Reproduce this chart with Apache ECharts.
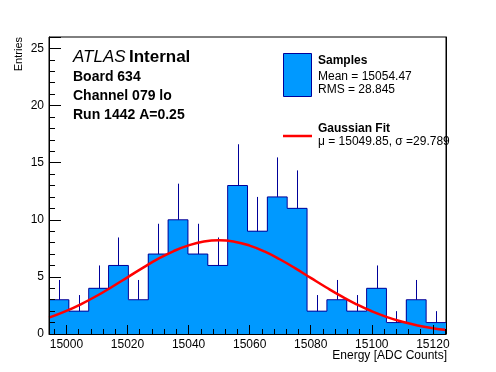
<!DOCTYPE html>
<html>
<head>
<meta charset="utf-8">
<script src="https://cdn.jsdelivr.net/npm/echarts@6/dist/echarts.min.js"></script>
<style>
html,body{margin:0;padding:0;background:#fff;}
#chart{width:496px;height:372px;}
</style>
</head>
<body>
<div id="chart"></div>
<script>
// ---- data ----
var binEdges = [14994.3, 15000.8, 15007.3, 15013.8, 15020.3, 15026.8, 15033.3, 15039.8, 15046.3, 15052.8,
                15059.3, 15065.8, 15072.3, 15078.8, 15085.3, 15091.8, 15098.3, 15104.8, 15111.3, 15117.8, 15124.3];
var counts = [3, 2, 4, 6, 3, 7, 10, 7, 6, 13, 9, 12, 11, 2, 3, 2, 4, 1, 3, 1];
var errors = [1.73, 1.41, 2, 2.45, 1.73, 2.65, 3.16, 2.65, 2.45, 3.61, 3, 3.46, 3.32, 1.41, 1.73, 1.41, 2, 1, 1.73, 1];
var fitX = [14994.3, 15000, 15005, 15010, 15015, 15020, 15025, 15030, 15035, 15040, 15045, 15050, 15055, 15060,
            15065, 15070, 15075, 15080, 15085, 15090, 15095, 15100, 15105, 15110, 15115, 15120, 15124];
var fitY = [1.43, 2.02, 2.64, 3.35, 4.14, 4.96, 5.79, 6.57, 7.24, 7.76, 8.09, 8.20, 8.08, 7.74,
            7.21, 6.52, 5.74, 4.91, 4.09, 3.31, 2.60, 1.99, 1.48, 1.07, 0.75, 0.51, 0.37];
var xTitle = 'Energy [ADC Counts]';
var yTitle = 'Entries';
var legendSamples = ['Samples', 'Mean = 15054.47', 'RMS = 28.845'];
var legendFit = ['Gaussian Fit', '\u03bc = 15049.85, \u03c3 =29.789'];
var infoLines = ['Board 634', 'Channel 079 lo', 'Run 1442 A=0.25'];

// ---- build series data ----
var histData = counts.map(function (c, i) { return [binEdges[i], binEdges[i + 1], c, errors[i]]; });
var stepData = counts.map(function (c, i) { return [binEdges[i], c]; });
stepData.push([binEdges[binEdges.length - 1], counts[counts.length - 1]]);
var fitData = fitX.map(function (x, i) { return [x, fitY[i]]; });

var FONT = '"Liberation Sans", Arial, Helvetica, sans-serif';
var FILL = '#0099ff';
var EDGE = '#000099';
var xMin = binEdges[0], xMax = binEdges[binEdges.length - 1];

var chart = echarts.init(document.getElementById('chart'), null, {renderer: 'canvas'});
chart.setOption({
  animation: false,
  backgroundColor: '#ffffff',
  grid: {left: 49, right: 50, top: 37, bottom: 38, show: true, borderColor: '#000', borderWidth: 1, backgroundColor: '#fff'},
  xAxis: [
    {
      type: 'value', position: 'bottom', min: xMin, max: xMax, minInterval: 20, maxInterval: 20, z: 10,
      axisLine: {show: true, lineStyle: {color: '#000', width: 1}},
      axisTick: {show: true, inside: true, length: 9, lineStyle: {color: '#000'}},
      splitLine: {show: false},
      axisLabel: {
        show: true, margin: 5, color: '#000', fontSize: 12, fontFamily: FONT,
        formatter: function (v) { return Math.abs(v % 20) < 1e-6 ? String(Math.round(v)) : ''; }
      }
    },
    {
      type: 'value', position: 'bottom', min: xMin, max: xMax, minInterval: 4, maxInterval: 4, z: 10,
      axisLine: {show: false},
      axisTick: {show: true, inside: true, length: 5, lineStyle: {color: '#000'}},
      splitLine: {show: false},
      axisLabel: {show: false}
    }
  ],
  yAxis: [
    {
      type: 'value', position: 'left', min: 0, max: 26, interval: 5, z: 10,
      axisLine: {show: true, lineStyle: {color: '#000', width: 1}},
      axisTick: {show: true, inside: true, length: 12, lineStyle: {color: '#000'}},
      splitLine: {show: false},
      axisLabel: {
        show: true, margin: 5, color: '#000', fontSize: 12, fontFamily: FONT,
        formatter: function (v) { return Math.abs(v % 5) < 1e-6 ? String(Math.round(v)) : ''; }
      }
    },
    {
      type: 'value', position: 'left', min: 0, max: 26, interval: 1, z: 10,
      axisLine: {show: false},
      axisTick: {show: true, inside: true, length: 6, lineStyle: {color: '#000'}},
      splitLine: {show: false},
      axisLabel: {show: false}
    },
    {
      type: 'value', position: 'right', min: 0, max: 26, z: 10,
      axisLine: {show: true, lineStyle: {color: '#000', width: 1}},
      axisTick: {show: false}, splitLine: {show: false}, axisLabel: {show: false}
    }
  ],
  series: [
    {
      type: 'custom', name: 'Samples', xAxisIndex: 0, yAxisIndex: 0, z: 2,
      data: histData,
      encode: {x: [0, 1], y: 2},
      renderItem: function (params, api) {
        var p1 = api.coord([api.value(0), api.value(2)]);
        var p2 = api.coord([api.value(1), 0]);
        var x0 = Math.round(p1[0]), x1 = Math.round(p2[0]);
        var y0 = Math.round(p1[1]), y1 = Math.round(p2[1]);
        return {
          type: 'rect',
          shape: {x: x0, y: y0, width: x1 - x0, height: y1 - y0},
          style: {fill: FILL, stroke: null}
        };
      }
    },
    {
      type: 'line', name: 'outline', xAxisIndex: 0, yAxisIndex: 0, z: 3,
      data: stepData, step: 'end', symbol: 'none', silent: true,
      lineStyle: {color: EDGE, width: 1}
    },
    {
      type: 'custom', name: 'errors', xAxisIndex: 0, yAxisIndex: 0, z: 4,
      data: histData,
      encode: {x: [0, 1], y: 2},
      renderItem: function (params, api) {
        var xc = (api.value(0) + api.value(1)) / 2;
        var a = api.coord([xc, api.value(2)]);
        var b = api.coord([xc, api.value(2) + api.value(3)]);
        var x = Math.round(a[0]) + 0.5;
        return {
          type: 'line',
          shape: {x1: x, y1: a[1], x2: x, y2: b[1]},
          style: {stroke: EDGE, lineWidth: 1}
        };
      }
    },
    {
      type: 'line', name: 'Gaussian Fit', xAxisIndex: 0, yAxisIndex: 0, z: 5,
      data: fitData, smooth: true, symbol: 'none', clip: true,
      lineStyle: {color: '#ff0000', width: 2.5}
    }
  ],
  graphic: [
    {type: 'text', x: 73, y: 57, z: 20, style: {
      text: '{i|ATLAS} {b|Internal}', verticalAlign: 'middle', align: 'left',
      rich: {
        i: {fontStyle: 'italic', fontSize: 17, fontFamily: FONT, fill: '#000'},
        b: {fontWeight: 'bold', fontSize: 17, fontFamily: FONT, fill: '#000'}
      }
    }},
    {type: 'text', x: 73, y: 77, z: 20, style: {text: infoLines[0], font: 'bold 14px ' + FONT, fill: '#000', verticalAlign: 'middle'}},
    {type: 'text', x: 73, y: 96, z: 20, style: {text: infoLines[1], font: 'bold 14px ' + FONT, fill: '#000', verticalAlign: 'middle'}},
    {type: 'text', x: 73, y: 115, z: 20, style: {text: infoLines[2], font: 'bold 14px ' + FONT, fill: '#000', verticalAlign: 'middle'}},
    // legend
    {type: 'rect', z: 20, shape: {x: 283.5, y: 53.5, width: 28, height: 43}, style: {fill: FILL, stroke: EDGE, lineWidth: 1}},
    {type: 'text', x: 318, y: 61, z: 20, style: {text: legendSamples[0], font: 'bold 12px ' + FONT, fill: '#000', verticalAlign: 'middle'}},
    {type: 'text', x: 318, y: 77, z: 20, style: {text: legendSamples[1], font: '12px ' + FONT, fill: '#000', verticalAlign: 'middle'}},
    {type: 'text', x: 318, y: 90, z: 20, style: {text: legendSamples[2], font: '12px ' + FONT, fill: '#000', verticalAlign: 'middle'}},
    {type: 'line', z: 20, shape: {x1: 283, y1: 136, x2: 312, y2: 136}, style: {stroke: '#ff0000', lineWidth: 2.5}},
    {type: 'text', x: 318, y: 129, z: 20, style: {text: legendFit[0], font: 'bold 12px ' + FONT, fill: '#000', verticalAlign: 'middle'}},
    {type: 'text', x: 318, y: 142, z: 20, style: {text: legendFit[1], font: '12px ' + FONT, fill: '#000', verticalAlign: 'middle'}},
    // axis titles
    {type: 'text', x: 447, y: 356, z: 20, style: {text: xTitle, font: '12px ' + FONT, fill: '#000', align: 'right', verticalAlign: 'middle'}},
    {type: 'text', x: 19, y: 37, z: 20, rotation: Math.PI / 2, style: {text: yTitle, font: '11px ' + FONT, fill: '#000', align: 'right', verticalAlign: 'middle'}}
  ]
});
</script>
</body>
</html>
